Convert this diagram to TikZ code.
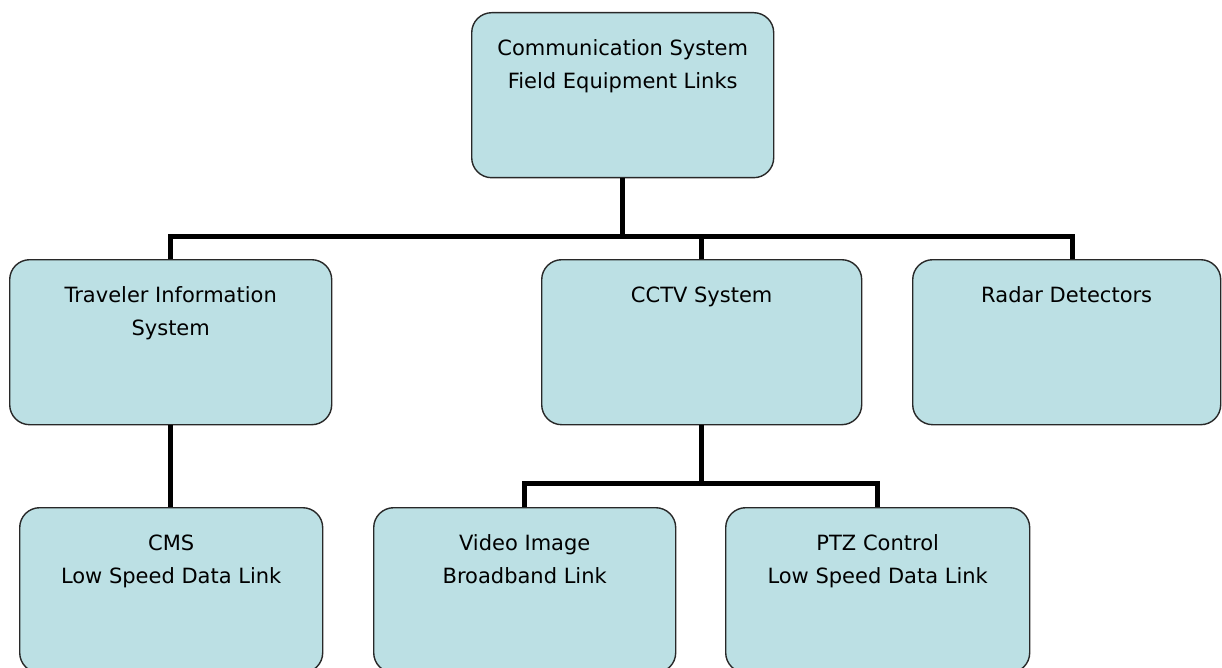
\documentclass[tikz,border=0pt]{standalone}
\usepackage{fontspec}
\setmainfont{DejaVu Sans}
\definecolor{boxfill}{RGB}{188,224,228}
\definecolor{boxline}{RGB}{40,40,40}
\tikzset{
  box/.style={draw=boxline, line width=1.4pt, fill=boxfill, rounded corners=20pt,
    inner sep=0pt, anchor=north west},
  link/.style={line width=5pt, black, line join=miter, line cap=butt}
}
\newcommand{\boxtxt}[3]{\parbox[c][#2pt][t]{#1pt}{\centering\fontsize{21}{33}\selectfont\vspace*{27pt}#3}}
\begin{document}
\begin{tikzpicture}[x=1pt,y=-1pt]
\useasboundingbox[fill=white] (0,0) rectangle (1222,668);
\begin{scope}
\clip (0,0) rectangle (1222,668);
\node[box] (top) at (471,12) {\boxtxt{302}{165}{Communication System\\Field Equipment Links}};
\node[box] (trav) at (9,259) {\boxtxt{322}{165}{Traveler Information\\System}};
\node[box] (cctv) at (541,259) {\boxtxt{320}{165}{CCTV System}};
\node[box] (radar) at (912,259) {\boxtxt{308}{165}{Radar Detectors}};
\node[box] (cms) at (19,507) {\boxtxt{303}{165}{CMS\\Low Speed Data Link}};
\node[box] (video) at (373,507) {\boxtxt{302}{165}{Video Image\\Broadband Link}};
\node[box] (ptz) at (725,507) {\boxtxt{304}{165}{PTZ Control\\Low Speed Data Link}};
\end{scope}
\coordinate (j1) at (top.south |- 0,237);
\coordinate (rtop) at (1072,259);
\coordinate (j2) at (cctv.south |- 0,483);
\draw[link] (top.south) -- (j1);
\draw[link] (trav.north) |- (j1) -| (rtop);
\draw[link] (j1 -| cctv.north) -- (cctv.north);
\draw[link] (trav.south) -- (trav.south |- cms.north);
\draw[link] (cctv.south) -- (j2);
\draw[link] (video.north) |- (j2) -| (ptz.north);
\end{tikzpicture}
\end{document}
